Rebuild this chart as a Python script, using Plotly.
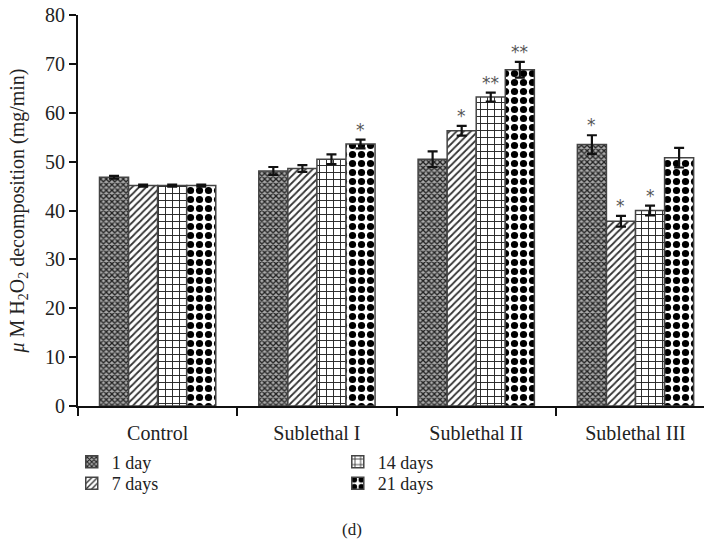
import plotly.graph_objects as go

categories = ["Control", "Sublethal I", "Sublethal II", "Sublethal III"]
series_names = ["1 day", "7 days", "14 days", "21 days"]
values_1day = [46.8, 48.1, 50.5, 53.5]
values_7days = [45.1, 48.6, 56.3, 37.8]
values_14days = [45.1, 50.5, 63.2, 40.0]
values_21days = [45.1, 53.6, 68.8, 50.8]
errors_1day = [0.3, 0.8, 1.6, 1.9]
errors_7days = [0.2, 0.7, 1.0, 1.1]
errors_14days = [0.2, 1.0, 0.9, 1.0]
errors_21days = [0.2, 0.9, 1.6, 2.0]
marks_1day = ["", "", "", "*"]
marks_7days = ["", "", "*", "*"]
marks_14days = ["", "", "**", "*"]
marks_21days = ["", "*", "**", ""]

values = [values_1day, values_7days, values_14days, values_21days]
errors = [errors_1day, errors_7days, errors_14days, errors_21days]
marks = [marks_1day, marks_7days, marks_14days, marks_21days]

patterns = [
    dict(shape="x", size=4, solidity=0.55, fgcolor="#222", bgcolor="#aaa", fillmode="replace"),
    dict(shape="/", size=5, solidity=0.35, fgcolor="#333", bgcolor="white", fillmode="replace"),
    dict(shape="+", size=7, solidity=0.25, fgcolor="#222", bgcolor="white", fillmode="replace"),
    dict(shape=".", size=9, solidity=0.5, fgcolor="#000", bgcolor="white", fillmode="replace"),
]
legend_ids = ["legend", "legend2", "legend3", "legend4"]
legend_cols = [0, 0, 1, 1]
legend_rows = [0, 1, 0, 1]

FONT = "Liberation Serif"
TXT = "#222"
fig = go.Figure()
for i, name in enumerate(series_names):
    fig.add_trace(go.Bar(
        x=categories, y=values[i], name=name,
        marker=dict(color="white", pattern=patterns[i], line=dict(color="#444", width=1.5)),
        error_y=dict(type="data", array=errors[i], color="#111", thickness=2.2, width=5),
        legend=legend_ids[i],
    ))

bargap = 0.27
bw = (1 - bargap) / 4
annotations = []
for i in range(4):
    for j, cat in enumerate(categories):
        if marks[i][j]:
            annotations.append(dict(
                x=j + (i - 1.5) * bw, y=values[i][j] + errors[i][j], xref="x", yref="y",
                text=marks[i][j], showarrow=False, yanchor="bottom", yshift=-2,
                font=dict(family="DejaVu Sans", size=17, color="#555555"),
            ))
annotations.append(dict(x=0.438, y=-0.345, xref="paper", yref="paper", text="(d)",
                        showarrow=False, font=dict(family=FONT, size=17, color=TXT)))

legend_x = [-0.01, 0.415]
legend_y = [-0.1435, -0.1985]
legend_layout = {}
for i, lid in enumerate(legend_ids):
    legend_layout[lid] = dict(
        orientation="v", x=legend_x[legend_cols[i]], xanchor="left",
        y=legend_y[legend_rows[i]], yanchor="middle",
        font=dict(family=FONT, size=18, color=TXT), itemwidth=30,
        bgcolor="rgba(0,0,0,0)", borderwidth=0,
    )

fig.update_layout(
    width=704, height=559,
    margin=dict(l=78, r=0, t=15, b=153, autoexpand=False),
    plot_bgcolor="white", paper_bgcolor="white",
    barmode="group", bargap=bargap, bargroupgap=0,
    font=dict(family=FONT, size=18, color=TXT),
    showlegend=True,
    annotations=annotations,
    xaxis=dict(type="category", range=[-0.5, 3.43], tickson="boundaries", ticks="outside",
               ticklen=8, tickwidth=2, tickcolor="#111", showline=True, linecolor="#111", linewidth=2,
               showgrid=False, ticklabelstandoff=8, tickfont=dict(family=FONT, size=20, color=TXT)),
    yaxis=dict(range=[0, 80], dtick=10, ticks="outside", ticklen=7, tickwidth=2, tickcolor="#111",
               showline=True, linecolor="#111", linewidth=2, showgrid=False, zeroline=False,
               tickfont=dict(family=FONT, size=20, color=TXT),
               title=dict(text="<i>μ</i> M H<sub>2</sub>O<sub>2</sub> decomposition (mg/min)",
                          font=dict(family=FONT, size=20, color=TXT), standoff=15)),
    **legend_layout,
)
fig.write_html("out.html")
